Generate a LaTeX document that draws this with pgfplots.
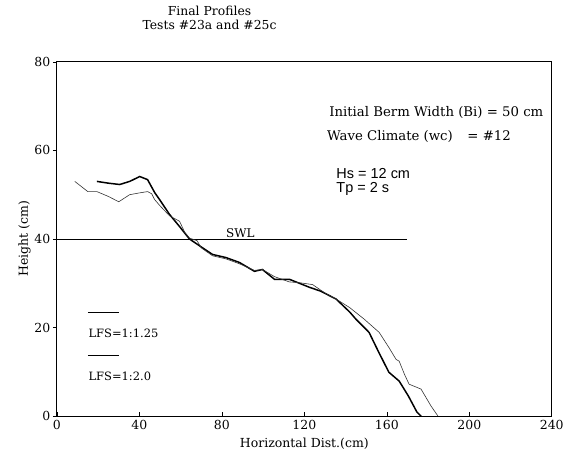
\documentclass[border=0pt]{standalone}
\usepackage{pgfplots}
\pgfplotsset{compat=1.18}
\usepackage{fontspec}
\setmainfont{DejaVu Serif}
\setsansfont{Liberation Sans}

\begin{document}
\begin{tikzpicture}[x=1pt,y=1pt]
% page frame, 567 x 465 with axis origin at (0,0)
\path (-57,-48) rectangle (510,417);
\begin{axis}[
  at={(0,0)}, anchor=origin,
  scale only axis,
  width=496pt, height=355pt,
  xmin=0, xmax=240, ymin=0, ymax=80,
  xtick={0,40,...,240}, ytick={0,20,...,80},
  xtick pos=bottom, ytick pos=left,
  xtick align=inside, ytick align=outside,
  major tick length=4pt,
  tick style={black, line width=0.6pt},
  tick label style={font=\fontsize{12.5}{14}\selectfont},
  /pgf/number format/assume math mode=true,
  xticklabel style={yshift=-1pt},
  yticklabel style={xshift=1pt},
  axis line style={line width=0.9pt},
  xlabel={Horizontal Dist.(cm)},
  ylabel={Height (cm)},
  xlabel style={font=\fontsize{12.5}{14}\selectfont, yshift=-1pt},
  ylabel style={font=\fontsize{12.5}{14}\selectfont, yshift=-3pt},
  clip=false
]

% SWL
\addplot[black, line width=0.7pt] coordinates {(0,40) (170,40)};
\node[font=\fontsize{12}{14}\selectfont, anchor=south, inner sep=1pt] at (axis cs:89,40) {SWL};

% LFS=1:1.25 (thick)
\addplot[black, line width=1.5pt] coordinates {
  (19.4,53.0) (25,52.6) (30.5,52.3) (35.3,53.0) (40.2,54.1) (44,53.4)
  (47.4,50.5) (49.8,48.9) (54.7,45.5) (59.5,42.8) (64.3,40.0) (70,38.2)
  (75.5,36.5) (82,35.8) (88.5,34.7) (95.8,32.7) (99.7,33.1) (105.5,30.9)
  (112.7,30.9) (122.4,29.1) (128,28.2) (135.5,26.4) (142,23.5) (145,21.9)
  (151.4,18.9) (156,14.5) (161,9.9) (166,7.9) (170.5,4.5) (174.6,0.9) (176.6,0)
};

% LFS=1:2.0 (thin)
\addplot[black!80, line width=0.6pt] coordinates {
  (8.7,53.0) (15,50.7) (19.4,50.7) (25,49.6) (30,48.4) (35.3,50.0)
  (40,50.4) (44,50.7) (46,50.2) (47.4,48.9) (50,47.5) (54.7,45.2)
  (59.5,44.0) (62,41.5) (64.3,40.2) (68,39.6) (70,38.0) (75.5,36.2)
  (82,35.5) (88.5,34.4) (95.8,32.9) (99.7,33.1) (105.5,31.5) (112.7,30.3)
  (118,30.1) (124,29.7) (130,27.8) (135.5,26.4) (142,24.5) (149,21.9)
  (156.3,18.9) (161,15.5) (164.5,12.8) (166,12.4) (168.5,9.5) (170.8,7.2)
  (176.6,6.1) (181.4,2.3) (184.8,0)
};

% legend (drawn by hand, as in the original)
\draw[black, line width=1.2pt] (axis cs:15,23.4) -- (axis cs:30,23.4);
\node[font=\fontsize{11.5}{13}\selectfont, anchor=west, inner sep=0pt] at (axis cs:15.3,18.8) {LFS=1:1.25};
\draw[black, line width=0.6pt] (axis cs:15,13.8) -- (axis cs:30,13.8);
\node[font=\fontsize{11.5}{13}\selectfont, anchor=west, inner sep=0pt] at (axis cs:15.3,9.0) {LFS=1:2.0};

% annotations
\node[font=\fontsize{13.3}{15}\selectfont, anchor=east, inner sep=0pt] at (axis cs:236,68.6) {Initial Berm Width (Bi) = 50 cm};
\node[font=\fontsize{13.3}{15}\selectfont, anchor=west, inner sep=0pt] at (axis cs:131,63.2) {Wave Climate (wc)\hspace{1.1em}= \#12};
\node[font=\sffamily\fontsize{14.5}{16}\selectfont, anchor=west, inner sep=0pt] at (axis cs:135.5,54.8) {Hs = 12 cm};
\node[font=\sffamily\fontsize{14.5}{16}\selectfont, anchor=west, inner sep=0pt] at (axis cs:135.5,51.3) {Tp = 2 s};
\end{axis}

% title
\node[font=\fontsize{12.4}{14}\selectfont, align=center, anchor=north] at (153,414) {Final Profiles\\Tests \#23a and \#25c};
\end{tikzpicture}
\end{document}
